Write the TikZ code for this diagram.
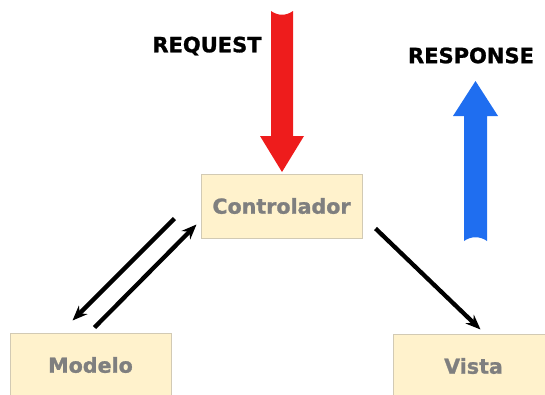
\documentclass[tikz,border=0pt]{standalone}
\usepackage{fontspec}
\setmainfont{DejaVu Sans}
\newfontfamily\heavyfont[FakeBold=1.2]{DejaVu Sans Bold}
\usetikzlibrary{arrows.meta,calc}
\definecolor{boxfill}{HTML}{FFF2CC}
\definecolor{boxline}{HTML}{D2CAB4}
\definecolor{boxtext}{HTML}{7F7F7F}
\definecolor{reqred}{HTML}{EE1C1C}
\definecolor{respblue}{HTML}{1F6EF0}

\begin{document}
\begin{tikzpicture}[x=1pt,y=-1pt,
    box/.style={draw=boxline,line width=1pt,fill=boxfill,minimum width=161pt,minimum height=64pt,inner sep=0pt,
      font=\fontsize{20.6}{24}\heavyfont,text=boxtext},
    heading/.style={font=\fontsize{21}{24}\heavyfont},
    link/.style={line width=4.3pt,-{Stealth[length=15pt,width=12pt]}}]

    \useasboundingbox (0,0) rectangle (545,394);

    % Draw the three boxes (controller, model, view)
    \node[box] (ctrl) at (281.5,206) {Controlador};
    \node[box] (model) at (90.5,365) {Modelo};
    \node[box] (view) at (473.5,366) {Vista};

    % Draw the request and response labels
    \node[heading] (req) at (207,46) {REQUEST};
    \node[heading] (resp) at (471,55.5) {RESPONSE};

    % Draw the red request arrow down into the controller
    \fill[reqred] (271,11) .. controls (278,16) and (286,16) .. (293,11) -- (293,136) -- (304,136)
        -- (282,172) -- (260,136) -- (271,136) -- cycle;

    % Draw the blue response arrow going up
    \fill[respblue] (464,241) .. controls (471,236) and (480,236) .. (487,241) -- (487,116) -- (498,116)
        -- (475.5,81) -- (453,116) -- (464,116) -- cycle;

    % Draw the links between controller, model and view
    \draw[link] ($(ctrl.south west)+(-26,-20)$) -- ($(model.north west)+(63,-12)$);
    \draw[link] ($(model.north west)+(85,-5)$) -- ($(ctrl.south west)+(-4,-14)$);
    \draw[link] ($(ctrl.south east)+(13,-10)$) -- ($(view.north west)+(88,-4)$);

\end{tikzpicture}
\end{document}
